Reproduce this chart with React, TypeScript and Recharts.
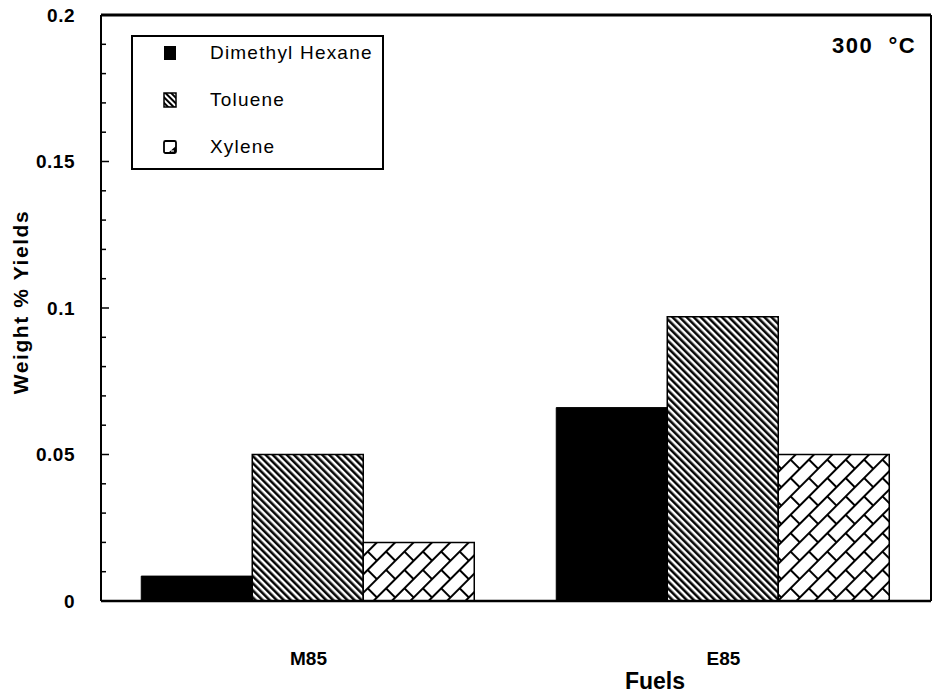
import { BarChart, Bar, XAxis, YAxis, Legend, ReferenceLine } from "recharts";

const categories = ["M85", "E85"];
const dimethylHexane = [0.0085, 0.066];
const toluene = [0.05, 0.097];
const xylene = [0.02, 0.05];
const yTicks = [
  0, 0.01, 0.02, 0.03, 0.04, 0.05, 0.06, 0.07, 0.08, 0.09, 0.1, 0.11, 0.12,
  0.13, 0.14, 0.15, 0.16, 0.17, 0.18, 0.19, 0.2,
];
const seriesNames = ["Dimethyl Hexane", "Toluene", "Xylene"];

const data = categories.map((name, i) => ({
  name,
  dimethyl: dimethylHexane[i],
  toluene: toluene[i],
  xylene: xylene[i],
}));

const FONT = '"Liberation Sans", Arial, Helvetica, sans-serif';
const W = 932;
const H = 693;
const LEFT_W = 101;
const RIGHT_W = 1;
const PLOT_LEFT = LEFT_W;
const PLOT_RIGHT = W - RIGHT_W;

function isMajor(v: number) {
  return Math.round(v * 100) % 5 === 0;
}

function LeftTick(props: any) {
  const { y, payload } = props;
  const major = isMajor(payload.value);
  return (
    <g>
      <line
        x1={PLOT_LEFT}
        x2={PLOT_LEFT + (major ? 8 : 5)}
        y1={y}
        y2={y}
        stroke="#000"
        strokeWidth={1.5}
      />
      {major && (
        <text
          x={PLOT_LEFT - 26}
          y={y}
          dy="0.36em"
          textAnchor="end"
          fontFamily={FONT}
          fontWeight="bold"
          fontSize={19}
          letterSpacing={0.5}
          fill="#000"
        >
          {String(payload.value)}
        </text>
      )}
    </g>
  );
}

function RightTick(props: any) {
  const { y, payload } = props;
  const major = isMajor(payload.value);
  return (
    <line
      x1={PLOT_RIGHT}
      x2={PLOT_RIGHT - (major ? 10 : 5)}
      y1={y}
      y2={y}
      stroke="#000"
      strokeWidth={1.5}
    />
  );
}

function YTitle() {
  return (
    <text
      x={20}
      y={302}
      transform="rotate(-90 20 302)"
      textAnchor="middle"
      dominantBaseline="central"
      fontFamily={FONT}
      fontWeight="bold"
      fontSize={21}
      letterSpacing={1.6}
      fill="#000"
    >
      Weight % Yields
    </text>
  );
}

function XTitle() {
  return (
    <text
      x={655}
      y={681}
      textAnchor="middle"
      dominantBaseline="central"
      fontFamily={FONT}
      fontWeight="bold"
      fontSize={23}
      fill="#000"
    >
      Fuels
    </text>
  );
}

function Swatch({ kind }: { kind: number }) {
  if (kind === 0) {
    return (
      <svg width={14} height={16}>
        <rect x={1} y={1} width={12} height={14} fill="#000" />
      </svg>
    );
  }
  if (kind === 1) {
    return (
      <svg width={14} height={16}>
        <rect x={1} y={1} width={12} height={14} fill="url(#tolueneSmall)" stroke="#000" strokeWidth={1.5} />
      </svg>
    );
  }
  return (
    <svg width={14} height={16}>
      <rect x={1} y={2} width={12} height={12} rx={1.5} fill="#fff" stroke="#000" strokeWidth={1.8} />
      <polygon points="5,14 13,14 13,7" fill="#000" />
      <line x1={8} y1={12} x2={11} y2={12} stroke="#fff" strokeWidth={1.2} />
    </svg>
  );
}

function LegendBox() {
  return (
    <div
      style={{
        boxSizing: "border-box",
        width: 253,
        height: 135,
        border: "2px solid #000",
        fontFamily: FONT,
        fontSize: 19,
        letterSpacing: 1.2,
        color: "#000",
      }}
    >
      {seriesNames.map((n, i) => (
        <div
          key={n}
          style={{ display: "flex", alignItems: "center", height: 32, marginBottom: 15 }}
        >
          <div style={{ width: 44, marginRight: 33, display: "flex", justifyContent: "flex-end" }}>
            <Swatch kind={i} />
          </div>
          <span>{n}</span>
        </div>
      ))}
    </div>
  );
}

export default function App() {
  return (
    <div style={{ position: "absolute", left: 0, top: 0, width: W, height: H, background: "#fff" }}>
      <svg width={0} height={0} style={{ position: "absolute" }}>
        <defs>
          <pattern id="tolueneHatch" patternUnits="userSpaceOnUse" width={5} height={10} patternTransform="rotate(-45)">
            <rect width={5} height={10} fill="#fff" />
            <line x1={1.3} y1={0} x2={1.3} y2={10} stroke="#000" strokeWidth={2.5} />
          </pattern>
          <pattern id="tolueneSmall" patternUnits="userSpaceOnUse" width={4} height={10} patternTransform="rotate(-45)">
            <rect width={4} height={10} fill="#fff" />
            <line x1={1} y1={0} x2={1} y2={10} stroke="#000" strokeWidth={2} />
          </pattern>
          <pattern id="xyleneBrick" patternUnits="userSpaceOnUse" width={26} height={26} patternTransform="rotate(-45)">
            <rect width={26} height={26} fill="#fff" />
            <path
              d="M0,0 L26,0 M0,13 L26,13 M0,26 L26,26 M0,0 L0,13 M26,0 L26,13 M13,13 L13,26"
              stroke="#000"
              strokeWidth={2}
              fill="none"
            />
          </pattern>
        </defs>
      </svg>
      <BarChart
        width={W}
        height={H}
        data={data}
        margin={{ top: 15, right: 0, bottom: 0, left: 0 }}
        barCategoryGap="9.7%"
        barGap={0}
      >
        <XAxis
          dataKey="name"
          height={92}
          tickLine={false}
          tickSize={0}
          tickMargin={51}
          axisLine={{ stroke: "#000", strokeWidth: 2.5 }}
          tick={{ fontFamily: FONT, fontWeight: "bold", fontSize: 19, fill: "#000" }}
          label={{ content: () => <XTitle /> }}
        />
        <YAxis
          yAxisId="left"
          width={LEFT_W}
          domain={[0, 0.2]}
          ticks={yTicks}
          interval={0}
          tickLine={false}
          axisLine={{ stroke: "#000", strokeWidth: 2 }}
          tick={LeftTick}
          label={{ content: () => <YTitle /> }}
        />
        <YAxis
          yAxisId="right"
          orientation="right"
          width={RIGHT_W}
          domain={[0, 0.2]}
          ticks={yTicks}
          interval={0}
          tickLine={false}
          axisLine={{ stroke: "#000", strokeWidth: 2 }}
          tick={RightTick}
        />
        <ReferenceLine yAxisId="left" y={0.2} stroke="#000" strokeWidth={3} />
        <Legend
          layout="vertical"
          align="center"
          verticalAlign="middle"
          content={() => <LegendBox />}
          wrapperStyle={{ left: 131, top: 35, width: 253, height: 135 }}
        />
        <Bar yAxisId="left" dataKey="dimethyl" name="Dimethyl Hexane" fill="#000" stroke="#000" strokeWidth={1} isAnimationActive={false} />
        <Bar yAxisId="left" dataKey="toluene" name="Toluene" fill="url(#tolueneHatch)" stroke="#000" strokeWidth={1.5} isAnimationActive={false} />
        <Bar yAxisId="left" dataKey="xylene" name="Xylene" fill="url(#xyleneBrick)" stroke="#000" strokeWidth={1.5} isAnimationActive={false} />
      </BarChart>
      <div
        style={{
          position: "absolute",
          left: 832,
          top: 33,
          fontFamily: FONT,
          fontWeight: "bold",
          fontSize: 22,
          letterSpacing: 1.5,
          color: "#000",
          whiteSpace: "pre",
        }}
      >
        {"300  °C"}
      </div>
    </div>
  );
}
